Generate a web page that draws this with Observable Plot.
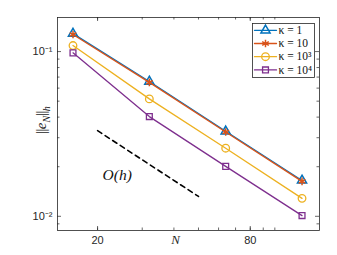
<!DOCTYPE html>
<html><head><meta charset="utf-8">
<script src="https://cdn.jsdelivr.net/npm/d3@7"></script>
<script src="https://cdn.jsdelivr.net/npm/@observablehq/plot@0.6"></script>
<style>
body{margin:0;background:#fff;}
#wrap{position:relative;width:337px;height:255px;overflow:hidden;background:#fff;}
#ylab{position:absolute;left:43px;top:120px;transform:translate(-50%,-50%) rotate(-90deg);font-family:"DejaVu Serif","Liberation Serif",serif;font-size:14px;color:#262626;white-space:nowrap;}
#ylab .b{font-family:"Liberation Serif",serif;letter-spacing:-0.5px;}
#ylab i{font-family:"Liberation Serif",serif;font-size:15px;}
#ylab sub i{font-size:10px;}
#legend{position:absolute;left:252px;top:23px;}
</style></head>
<body><div id="wrap"><div id="ylab"><span class="b">||</span><i>e</i><sub><i>N</i></sub><span class="b">||</span><sub><i>h</i></sub></div><div id="legend"></div></div>
<script>
// data
const N = [16, 32, 64, 128];
const kappa1 = [0.1286, 0.0658, 0.0328, 0.0165];
const kappa10 = [0.127, 0.065, 0.0325, 0.0163];
const kappa1e3 = [0.1088, 0.0516, 0.0259, 0.01285];
const kappa1e4 = [0.0982, 0.0403, 0.0201, 0.0101];
const seriesNames = ["κ = 1", "κ = 10", "κ = 10³", "κ = 10⁴"];
const seriesColors = ["#0072BD", "#D95319", "#EDB120", "#7E2F8E"];
const refN = [20, 50];
const refE = [0.0331, 0.0132];
const refLabel = {N: 23.9, e: 0.0179, text: "O(h)"};
const xTickLabels = [20, 80];
const xMinor = [20, 30, 40, 50, 60, 70, 80, 90, 100];
const yTickLabels = [0.01, 0.1];
const yMinor = [0.009, 0.02, 0.03, 0.04, 0.05, 0.06, 0.07, 0.08, 0.09];

const allSeries = [kappa1, kappa10, kappa1e3, kappa1e4];
const rows = allSeries.map((vals, s) => vals.map((e, i) => ({N: N[i], e, s})));
const ref = refN.map((n, i) => ({N: n, e: refE[i]}));

const W = 337, H = 255, mL = 57, mR = 18, mT = 17, mB = 25;
const fh = H - mT - mB, fw = W - mL - mR;
const axisCol = "#262626";
const symbols = [
  {symbol: "triangle", r: 3.4, stroke: seriesColors[0], fill: "none", strokeWidth: 1.5},
  {symbol: "asterisk", r: 3.6, stroke: seriesColors[1], fill: "none", strokeWidth: 1.5},
  {symbol: "circle", r: 3.8, stroke: seriesColors[2], fill: "none", strokeWidth: 1.3},
  {symbol: "square", r: 3.3, stroke: seriesColors[3], fill: "none", strokeWidth: 1.3}
];

const marks = [
  Plot.frame({stroke: axisCol, strokeWidth: 0.8}),
  // inward ticks
  Plot.tickX(xMinor, {x: d => d, insetTop: fh - 2.5, stroke: axisCol, strokeWidth: 0.7}),
  Plot.tickX(xMinor, {x: d => d, insetBottom: fh - 2.5, stroke: axisCol, strokeWidth: 0.7}),
  Plot.tickX(xTickLabels, {x: d => d, insetTop: fh - 4, stroke: axisCol, strokeWidth: 0.7}),
  Plot.tickX(xTickLabels, {x: d => d, insetBottom: fh - 4, stroke: axisCol, strokeWidth: 0.7}),
  Plot.tickY(yMinor, {y: d => d, insetRight: fw - 2.5, stroke: axisCol, strokeWidth: 0.7}),
  Plot.tickY(yMinor, {y: d => d, insetLeft: fw - 2.5, stroke: axisCol, strokeWidth: 0.7}),
  Plot.tickY(yTickLabels, {y: d => d, insetRight: fw - 4, stroke: axisCol, strokeWidth: 0.7}),
  Plot.tickY(yTickLabels, {y: d => d, insetLeft: fw - 4, stroke: axisCol, strokeWidth: 0.7}),
  Plot.axisX({ticks: xTickLabels, tickSize: 0, tickPadding: 6, label: null, tickFormat: d => String(d), fontSize: 11}),
  Plot.axisY({ticks: yTickLabels, tickSize: 0, tickPadding: 5, label: null, tickFormat: d => d >= 0.1 ? "10⁻¹" : "10⁻²", fontSize: 11}),
  Plot.text(["N"], {frameAnchor: "bottom", dx: -13, dy: 13, text: d => d, fontFamily: "Liberation Serif", fontStyle: "italic", fontSize: 13, fill: axisCol}),
  // reference slope
  Plot.line(ref, {x: "N", y: "e", stroke: "#000", strokeWidth: 1.6, strokeDasharray: "5,4"}),
  Plot.text([refLabel], {x: "N", y: "e", text: "text", fontFamily: "Liberation Serif", fontStyle: "italic", fontSize: 15.5, fill: "#111"})
];
rows.forEach((r, s) => {
  marks.push(Plot.line(r, {x: "N", y: "e", stroke: seriesColors[s], strokeWidth: 1.3}));
  marks.push(Plot.dot(r, {x: "N", y: "e", ...symbols[s]}));
});

const chart = Plot.plot({
  width: W, height: H,
  marginLeft: mL, marginRight: mR, marginTop: mT, marginBottom: mB,
  x: {type: "log", domain: [13.9, 150]},
  y: {type: "log", domain: [0.0082, 0.161]},
  style: {fontFamily: "'Liberation Sans', Arial, sans-serif", fontSize: "11px", color: "#262626", background: "transparent"},
  marks
});
document.getElementById("wrap").prepend(chart);

// legend
const LW = 62, LH = 54;
const legRows = seriesNames.map((name, s) => ({name, s, y: 6.8 + s * 13.2}));
const legMarks = [Plot.frame({stroke: axisCol, strokeWidth: 0.8, fill: "#fff"})];
legRows.forEach(r => {
  const seg = [{x: 2, y: r.y}, {x: 24, y: r.y}];
  legMarks.push(Plot.line(seg, {x: "x", y: "y", stroke: seriesColors[r.s], strokeWidth: 1.3}));
  legMarks.push(Plot.dot([{x: 13, y: r.y}], {x: "x", y: "y", ...symbols[r.s]}));
});
legMarks.push(Plot.text(legRows, {x: () => 26, y: "y", text: "name", textAnchor: "start", fontFamily: "Liberation Serif", fontSize: 11.5, fill: "#111"}));
const legend = Plot.plot({
  width: LW, height: LH, margin: 0,
  x: {domain: [0, LW], range: [0, LW], axis: null},
  y: {domain: [0, LH], range: [0, LH], axis: null},
  style: {background: "#fff", overflow: "visible"},
  marks: legMarks
});
document.getElementById("legend").appendChild(legend);
</script>
</body></html>
